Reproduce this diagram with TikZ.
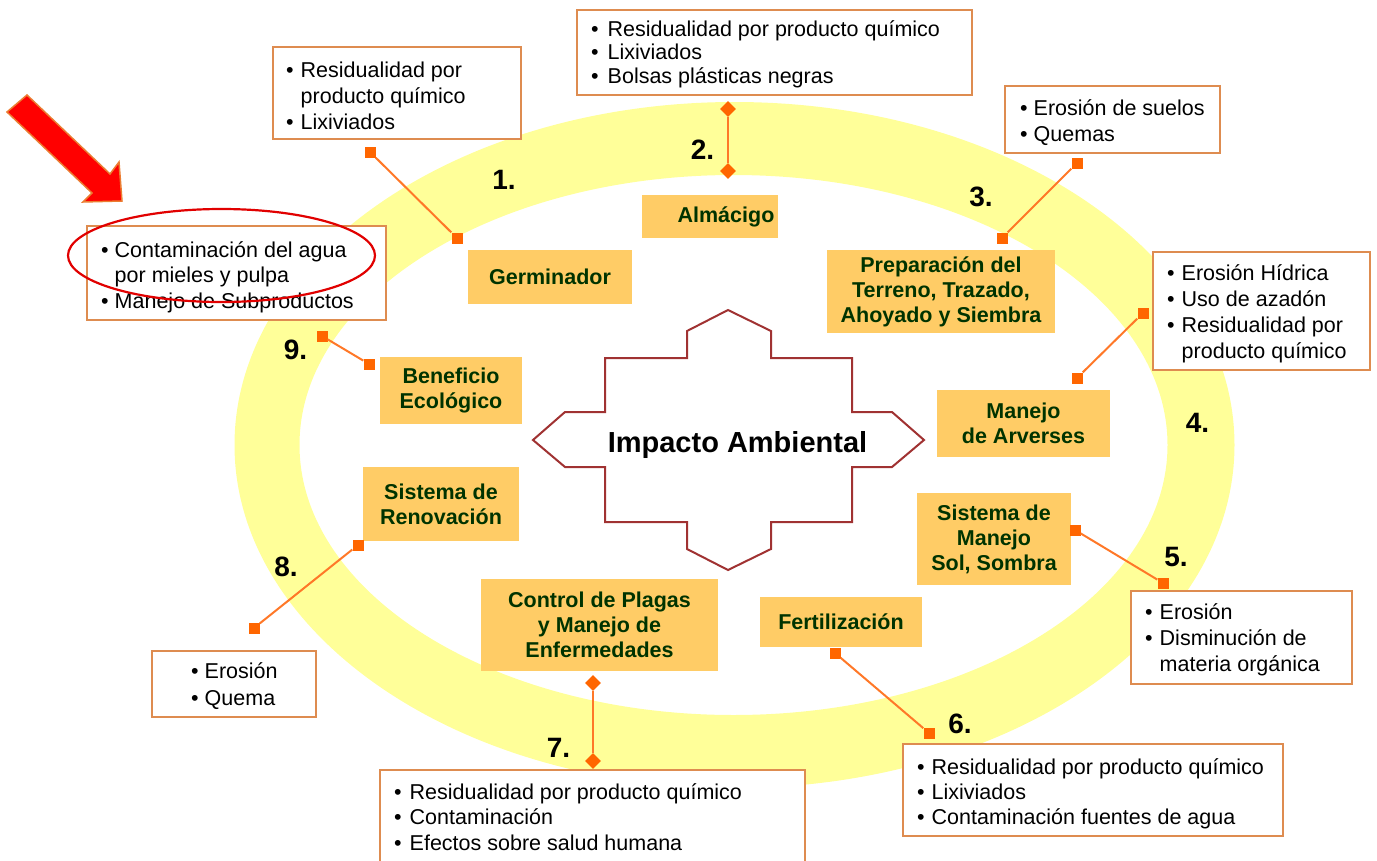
\documentclass[tikz,border=0pt]{standalone}
\usepackage{fontspec}
\setmainfont{Liberation Sans}
\usetikzlibrary{shapes.geometric}
\definecolor{ringc}{RGB}{255,255,153}
\definecolor{lblfill}{RGB}{255,204,102}
\definecolor{lbltext}{RGB}{0,51,0}
\definecolor{bord}{RGB}{222,140,80}
\definecolor{conn}{RGB}{255,120,40}
\definecolor{markc}{RGB}{255,102,0}
\definecolor{starc}{RGB}{160,50,50}
\definecolor{arrowred}{RGB}{255,0,0}
\definecolor{arrowbord}{RGB}{235,125,50}
\definecolor{ovalred}{RGB}{225,0,0}
\begin{document}
\begin{tikzpicture}[x=1pt,y=-1pt,
  lbl/.style={fill=lblfill, text=lbltext, font=\fontsize{21.5}{25}\selectfont\bfseries, align=center, inner sep=0pt},
  bbox/.style={draw=bord, line width=2pt, fill=white, inner sep=0pt},
  btxt/.style={anchor=base west, inner sep=0pt, font=\fontsize{21.5}{26}\selectfont},
  num/.style={font=\fontsize{28}{30}\selectfont\bfseries, inner sep=0pt},
  sqm/.style={rectangle, fill=markc, minimum size=11pt, inner sep=0pt},
  dim/.style={diamond, fill=markc, minimum size=16pt, inner sep=0pt},
  conline/.style={draw=conn, line width=2pt}]
\useasboundingbox (0,0) rectangle (1377,860);
% ring
\fill[ringc, even odd rule] (734.5,445) ellipse [x radius=500, y radius=343]
  (733.5,445) ellipse [x radius=434, y radius=270];
% central shape
\draw[starc, line width=2pt, fill=white] (728,310) -- (771,331) -- (771,358) -- (852,358) -- (852,412) -- (892,412) -- (924,440) -- (892,467) -- (852,467) -- (852,522) -- (771,522) -- (771,549) -- (728,570) -- (687,549) -- (687,522) -- (605,522) -- (605,467) -- (565,467) -- (533,440) -- (565,412) -- (605,412) -- (605,358) -- (687,358) -- (687,331) -- cycle;
\node[font=\fontsize{29}{32}\selectfont\bfseries, anchor=base, inner sep=0pt] (imp) at (737.5,452) {Impacto Ambiental};
% label boxes
\node[lbl, minimum width=164pt, minimum height=54pt] (germ) at (550,277) {Germinador};
\node[lbl, minimum width=136pt, minimum height=43pt] (alm) at (710,216.5) {\hspace*{32pt}Almácigo};
\node[lbl, minimum width=228pt, minimum height=83pt] (prep) at (941,291.5) {Preparación del\\Terreno, Trazado,\\Ahoyado y Siembra};
\node[lbl, minimum width=173pt, minimum height=67pt] (arv) at (1023.5,423.5) {Manejo\\de Arverses};
\node[lbl, minimum width=154pt, minimum height=92pt] (sol) at (994,539) {Sistema de\\Manejo\\Sol, Sombra};
\node[lbl, minimum width=162pt, minimum height=50pt] (fert) at (841,622) {Fertilización};
\node[lbl, minimum width=237pt, minimum height=92pt] (ctrl) at (599.5,625) {Control de Plagas\\y Manejo de\\Enfermedades};
\node[lbl, minimum width=156pt, minimum height=74pt] (ren) at (441,504) {Sistema de\\Renovación};
\node[lbl, minimum width=142pt, minimum height=67pt] (ben) at (451,390.5) {Beneficio\\Ecológico};
% bullet boxes
\node[bbox, minimum width=248pt, minimum height=92pt] (b1) at (397,93) {};
\node[btxt] (b1t) at (286,77) {\begin{tabular}[t]{@{}l@{\hspace{7pt}}l@{}}•&Residualidad por\\&producto químico\\•&Lixiviados\end{tabular}};
\node[bbox, minimum width=395pt, minimum height=85pt] (b2) at (774.5,52.5) {};
\node[btxt, font=\fontsize{21.5}{23.5}\selectfont] (b2t) at (591,36) {\begin{tabular}[t]{@{}l@{\hspace{9pt}}l@{}}•&Residualidad por producto químico\\•&Lixiviados\\•&Bolsas plásticas negras\end{tabular}};
\node[bbox, minimum width=215pt, minimum height=67pt] (b3) at (1112.5,119.5) {};
\node[btxt] (b3t) at (1020,115) {\begin{tabular}[t]{@{}l@{\hspace{6pt}}l@{}}•&Erosión de suelos\\•&Quemas\end{tabular}};
\node[bbox, minimum width=217pt, minimum height=118pt] (b4) at (1261.5,311) {};
\node[btxt] (b4t) at (1167,280) {\begin{tabular}[t]{@{}l@{\hspace{7pt}}l@{}}•&Erosión Hídrica\\•&Uso de azadón\\•&Residualidad por\\&producto químico\end{tabular}};
\node[bbox, minimum width=221pt, minimum height=93pt] (b5) at (1241.5,637.5) {};
\node[btxt] (b5t) at (1145,619) {\begin{tabular}[t]{@{}l@{\hspace{7pt}}l@{}}•&Erosión\\•&Disminución de\\&materia orgánica\end{tabular}};
\node[bbox, minimum width=380pt, minimum height=92pt] (b6) at (1093,790) {};
\node[btxt, font=\fontsize{21.5}{25}\selectfont] (b6t) at (917,774) {\begin{tabular}[t]{@{}l@{\hspace{7pt}}l@{}}•&Residualidad por producto químico\\•&Lixiviados\\•&Contaminación fuentes de agua\end{tabular}};
\node[bbox, minimum width=425pt, minimum height=100pt] (b7) at (592.5,820) {};
\node[btxt, font=\fontsize{21.5}{25.5}\selectfont] (b7t) at (394,799) {\begin{tabular}[t]{@{}l@{\hspace{8pt}}l@{}}•&Residualidad por producto químico\\•&Contaminación\\•&Efectos sobre salud humana\end{tabular}};
\node[bbox, minimum width=164pt, minimum height=66pt] (b8) at (234,684) {};
\node[btxt, font=\fontsize{21.5}{27}\selectfont] (b8t) at (191,678) {\begin{tabular}[t]{@{}l@{\hspace{6pt}}l@{}}•&Erosión\\•&Quema\end{tabular}};
\node[bbox, minimum width=299pt, minimum height=94pt] (b9) at (236.5,273) {};
\node[btxt, font=\fontsize{21.5}{25.5}\selectfont] (b9t) at (101,257) {\begin{tabular}[t]{@{}l@{\hspace{6pt}}l@{}}•&Contaminación del agua\\&por mieles y pulpa\\•&Manejo de Subproductos\end{tabular}};
% markers
\node[sqm] (c1a) at (370,152) {};
\node[sqm] (c1b) at (457,238) {};
\node[dim] (c2a) at (728,109) {};
\node[dim] (c2b) at (728,171) {};
\node[sqm] (c3a) at (1077,163) {};
\node[sqm] (c3b) at (1002,238) {};
\node[sqm] (c4a) at (1143,313) {};
\node[sqm] (c4b) at (1077,378) {};
\node[sqm] (c5a) at (1075,530) {};
\node[sqm] (c5b) at (1163,583) {};
\node[sqm] (c6a) at (835,653) {};
\node[sqm] (c6b) at (929,733) {};
\node[dim] (c7a) at (593,683) {};
\node[dim] (c7b) at (593,761) {};
\node[sqm] (c8a) at (358,545) {};
\node[sqm] (c8b) at (254,628) {};
\node[sqm] (c9a) at (322,336) {};
\node[sqm] (c9b) at (369,364) {};
% connectors
\draw[conline] (c1a) -- (c1b);
\draw[conline] (c2a) -- (c2b);
\draw[conline] (c3a) -- (c3b);
\draw[conline] (c4a) -- (c4b);
\draw[conline] (c5a) -- (c5b);
\draw[conline] (c6a) -- (c6b);
\draw[conline] (c7a) -- (c7b);
\draw[conline] (c8a) -- (c8b);
\draw[conline] (c9a) -- (c9b);
% numbers
\node[num] (n1) at (504,180) {1.};
\node[num] (n2) at (702.5,149.5) {2.};
\node[num] (n3) at (981,197) {3.};
\node[num] (n4) at (1197.5,422.5) {4.};
\node[num] (n5) at (1176,557) {5.};
\node[num] (n6) at (960,724) {6.};
\node[num] (n7) at (558.5,748) {7.};
\node[num] (n8) at (286,567) {8.};
\node[num] (n9) at (295.5,350) {9.};
% red arrow
\draw[fill=arrowred, draw=arrowbord, line width=1.5pt, line join=miter] (7,112) -- (27,95) -- (110,174) -- (119,162) -- (122,201) -- (83,202) -- (92,193) -- cycle;
% red oval
\draw[ovalred, line width=2.2pt] (221.5,255.5) ellipse [x radius=153.5, y radius=46.5];
\end{tikzpicture}
\end{document}
